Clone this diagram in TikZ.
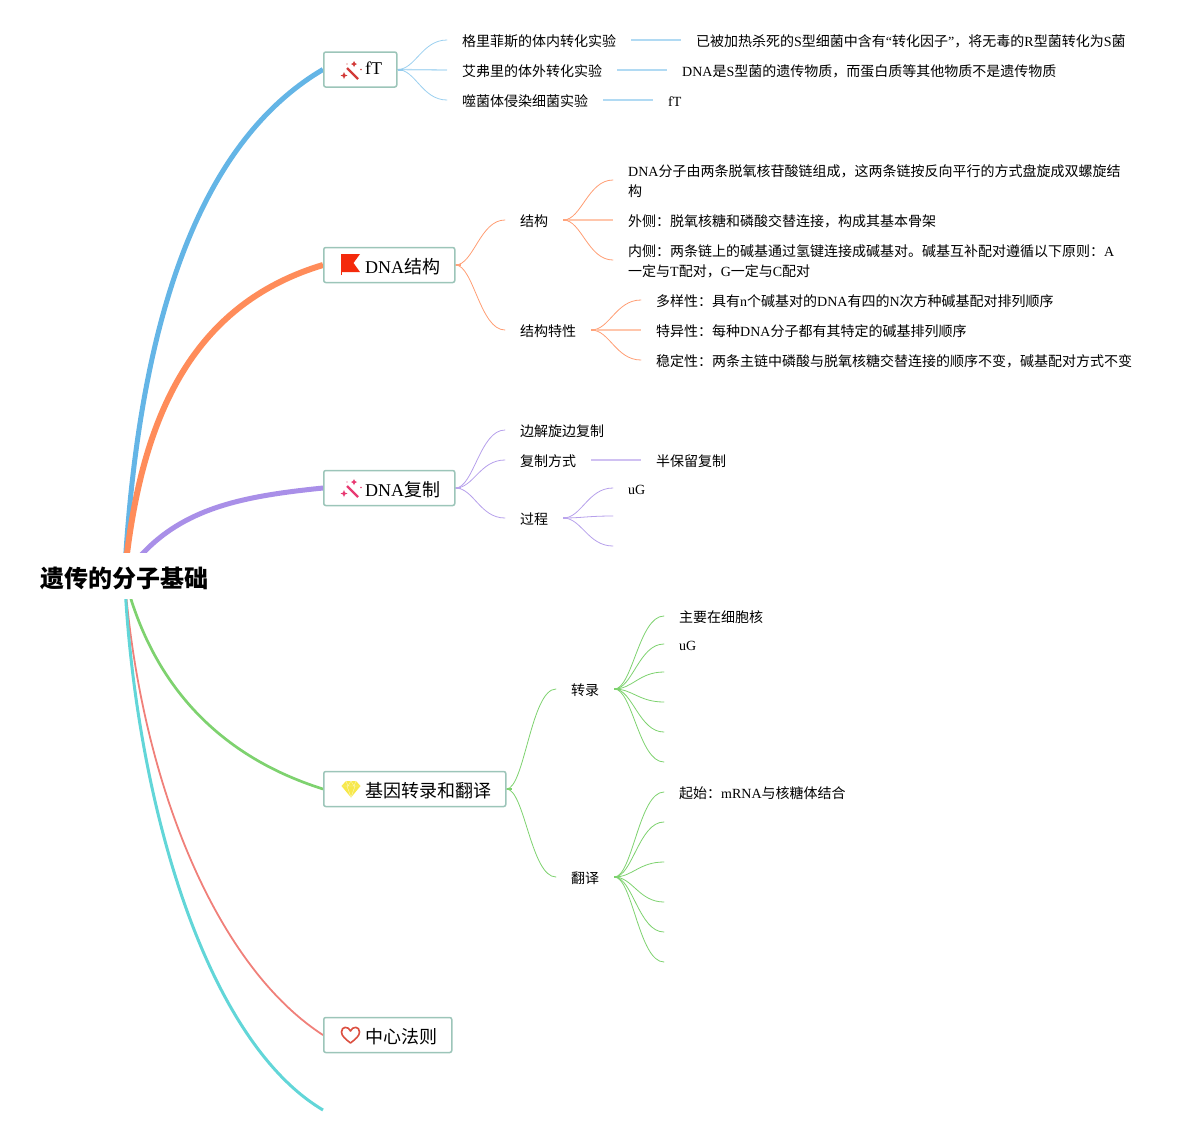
\documentclass[tikz,border=0pt]{standalone}
\usepackage{fontspec}
\setmainfont{Noto Sans CJK SC}
\newfontfamily\latfont{Liberation Serif}
\newcommand{\lat}[1]{{\latfont #1}}
\usetikzlibrary{backgrounds}
\definecolor{boxline}{HTML}{9CC5B9}
\definecolor{lineblue}{HTML}{64B5E6}
\definecolor{lineorange}{HTML}{FF8C5A}
\definecolor{linepurple}{HTML}{A98FE8}
\definecolor{linegreen}{HTML}{7ED26F}
\definecolor{linered}{HTML}{F0807A}
\definecolor{linecyan}{HTML}{62D6D8}
\definecolor{wandred}{HTML}{D23A38}
\definecolor{wandpink}{HTML}{E83A72}
\definecolor{flagred}{HTML}{F42A0C}
\definecolor{gemyellow}{HTML}{F7E84A}
\definecolor{heartred}{HTML}{DC4F40}
\tikzset{
 rootnode/.style={fill=white,inner xsep=4pt,minimum height=46pt,text height=24pt,text depth=1.8pt,font=\fontsize{24}{28}\selectfont\bfseries},
 topicbox/.style={draw=boxline,line width=1.5pt,rounded corners=2pt,fill=white,anchor=west,minimum height=35pt,inner sep=0pt,font=\fontsize{18}{22}\selectfont},
 leaf/.style={anchor=west,inner xsep=15pt,inner ysep=2pt,align=left,text height=14pt,text depth=1.4pt,font=\fontsize{14}{20}\selectfont},
 twolines/.style={text height=34pt,text depth=1.4pt},
 branch/.style={line width=0.8pt,line cap=round},
 midline/.style={line width=1.3pt},
 stub/.style={line width=2pt},
 bendline/.style={to path={.. controls +(18,0) and +(-25,0) .. (\tikztotarget)}},
 wandicon/.pic={
  \draw[#1,line width=2.2pt] (-3,-3)--(8,8);
  \fill[#1] (4,-10)--(5,-8)--(7,-7)--(5,-6)--(4,-4)--(3,-6)--(1,-7)--(3,-8)--cycle;
  \fill[#1] (-6,1)--(-5,3.5)--(-2.5,4.5)--(-5,5.5)--(-6,8)--(-7,5.5)--(-9.5,4.5)--(-7,3.5)--cycle;
  \fill[#1] (11,-1.5) circle (0.9pt);
  \fill[#1] (-3,-7) circle (0.7pt);
 },
 flagicon/.pic={
  \fill[flagred] (-9,-10)--(10,-10)--(3.5,-1)--(10,8)--(-9,8)--cycle;
  \draw[flagred,line width=0.9pt] (-8.6,-10)--(-8.6,11);
 },
 gemicon/.pic={
  \fill[gemyellow] (-5,-8)--(5,-8)--(9.5,-3)--(0,8.5)--(-9.5,-3)--cycle;
  \draw[gemyellow!35,line width=0.4pt] (-9.5,-3)--(9.5,-3) (-4,-3)--(0,8.5)--(4,-3) (-5,-8)--(-3,-3)--(0,-8)--(3,-3)--(5,-8);
 },
 hearticon/.pic={
  \draw[heartred,line width=1.6pt,line join=round] (0,8) .. controls (-5,4) and (-9,1) .. (-9,-3) .. controls (-9,-9) and (-2,-9) .. (0,-4) .. controls (2,-9) and (9,-9) .. (9,-3) .. controls (9,1) and (5,4) .. (0,8) -- cycle;
 }
}
\begin{document}
\begin{tikzpicture}[x=1pt,y=-1pt]
 \useasboundingbox (0,0) rectangle (1192,1136);
 % root and first level
 \node[rootnode] (root) at (124.5,576) {遗传的分子基础};
 \node[topicbox,minimum width=73pt] (ft) at (323,69.5) {};
 \node[topicbox,minimum width=131pt] (dnajg) at (323,265) {};
 \node[topicbox,minimum width=131pt] (dnafz) at (323,488) {};
 \node[topicbox,minimum width=182pt] (jyzl) at (323,789) {};
 \node[topicbox,minimum width=128pt] (zxfz) at (323,1035) {};
 \coordinate (tail) at (323,1110);
 \foreach \n/\x/\y/\t in {fta/365/68/\lat{fT},dnajga/365/267/\lat{DNA}结构,dnafza/365/490/\lat{DNA}复制,jyzla/365/791/基因转录和翻译,zxfza/365/1037/中心法则}
  \node[anchor=west,inner sep=0pt,font=\fontsize{18}{22}\selectfont] (\n) at (\x,\y) {\t};
 \pic at (350,71) {wandicon=wandred};
 \pic at (350,264) {flagicon};
 \pic at (350,489) {wandicon=wandpink};
 \pic at (351,789) {gemicon};
 \pic at (350.5,1035) {hearticon};
 % fT
 \node[leaf] (fa) at (447,40) {格里菲斯的体内转化实验};
 \node[leaf] (fb) at (447,70) {艾弗里的体外转化实验};
 \node[leaf] (fc) at (447,100) {噬菌体侵染细菌实验};
 \node[leaf] (faa) at (681,40) {已被加热杀死的\lat{S}型细菌中含有\lat{“}转化因子\lat{”}，将无毒的\lat{R}型菌转化为\lat{S}菌};
 \node[leaf] (fba) at (667,70) {\lat{DNA}是\lat{S}型菌的遗传物质，而蛋白质等其他物质不是遗传物质};
 \node[leaf] (fca) at (653,100) {\lat{fT}};
 % DNA jiegou
 \node[leaf] (ja) at (505,220) {结构};
 \node[leaf] (jb) at (505,330) {结构特性};
 \node[leaf,twolines] (jaa) at (613,180) {\lat{DNA}分子由两条脱氧核苷酸链组成，这两条链按反向平行的方式盘旋成双螺旋结\\构};
 \node[leaf] (jab) at (613,220) {外侧：脱氧核糖和磷酸交替连接，构成其基本骨架};
 \node[leaf,twolines] (jac) at (613,260) {内侧：两条链上的碱基通过氢键连接成碱基对。碱基互补配对遵循以下原则：\lat{A}\\一定与\lat{T}配对，\lat{G}一定与\lat{C}配对};
 \node[leaf] (jba) at (641,300) {多样性：具有\lat{n}个碱基对的\lat{DNA}有四的\lat{N}次方种碱基配对排列顺序};
 \node[leaf] (jbb) at (641,330) {特异性：每种\lat{DNA}分子都有其特定的碱基排列顺序};
 \node[leaf] (jbc) at (641,360) {稳定性：两条主链中磷酸与脱氧核糖交替连接的顺序不变，碱基配对方式不变};
 % DNA fuzhi
 \node[leaf] (da) at (505,430) {边解旋边复制};
 \node[leaf] (db) at (505,460) {复制方式};
 \node[leaf] (dc) at (505,518) {过程};
 \node[leaf] (dba) at (641,460) {半保留复制};
 \node[leaf] (dca) at (613,488) {\lat{uG}};
 \coordinate (dcb) at (613,516);
 \coordinate (dcc) at (613,546);
 % jiyin
 \node[leaf] (ga) at (556,689) {转录};
 \node[leaf] (gb) at (556,877) {翻译};
 \node[leaf] (gaa) at (664,616) {主要在细胞核};
 \node[leaf] (gab) at (664,644) {\lat{uG}};
 \node[leaf] (gba) at (664,792) {起始：\lat{mRNA}与核糖体结合};
 \foreach \n/\y in {gac/672,gad/702,gae/732,gaf/762,gbb/822,gbc/862,gbd/902,gbe/932,gbf/962}
  \coordinate (\n) at (664,\y);
 \begin{scope}[on background layer]
  \draw[lineblue,line width=5pt] (root.center) .. controls (138,330) and (195,145) .. (ft.west);
  \draw[lineorange,line width=6pt] (root.center) .. controls (140,420) and (190,305) .. (dnajg.west);
  \draw[linepurple,line width=5pt] (root.center) .. controls (170,510) and (235,497) .. (dnafz.west);
  \draw[linegreen,line width=2.7pt] (root.center) .. controls (150,680) and (215,755) .. (jyzl.west);
  \draw[linered,line width=1.8pt] (root.center) .. controls (140,780) and (215,965) .. (zxfz.west);
  \draw[linecyan,line width=3pt] (root.center) .. controls (135,800) and (205,1040) .. (tail);
  % fT lines
  \foreach \a/\b in {ft/fa,ft/fc}
   \draw[branch,lineblue!65] (\a.east) to[bendline] (\b.west);
  \foreach \a/\b in {ft/fb,fa/faa,fb/fba,fc/fca}
   \draw[midline,lineblue!50] (\a.east)--(\b.west);
  \draw[stub,lineblue!70] (ft.east)--+(5,0);
  % DNA jiegou lines
  \foreach \a/\b in {dnajg/ja,dnajg/jb,ja/jaa,ja/jac,jb/jba,jb/jbc}
   \draw[branch,lineorange!85] (\a.east) to[bendline] (\b.west);
  \foreach \a/\b in {ja/jab,jb/jbb}
   \draw[midline,lineorange!50] (\a.east)--(\b.west);
  \foreach \a in {ja,jb,dnajg}
   \draw[stub,lineorange!80] (\a.east)--+(5,0);
  % DNA fuzhi lines
  \foreach \a/\b in {dnafz/da,dnafz/db,dnafz/dc,dc/dca}
   \draw[branch,linepurple!85] (\a.east) to[bendline] (\b.west);
  \draw[midline,linepurple!55] (db.east)--(dba.west);
  \foreach \b in {dcb,dcc}
   \draw[branch,linepurple!85] (dc.east) to[bendline] (\b);
  \foreach \a in {dc,dnafz}
   \draw[stub,linepurple!80] (\a.east)--+(5,0);
  % jiyin lines
  \foreach \a/\b in {jyzl/ga,jyzl/gb,ga/gaa,ga/gab,gb/gba}
   \draw[branch,linegreen] (\a.east) to[bendline] (\b.west);
  \foreach \b in {gac,gad,gae,gaf}
   \draw[branch,linegreen] (ga.east) to[bendline] (\b);
  \foreach \b in {gbb,gbc,gbd,gbe,gbf}
   \draw[branch,linegreen] (gb.east) to[bendline] (\b);
  \foreach \a in {ga,gb,jyzl}
   \draw[stub,linegreen] (\a.east)--+(5,0);
 \end{scope}
\end{tikzpicture}
\end{document}
